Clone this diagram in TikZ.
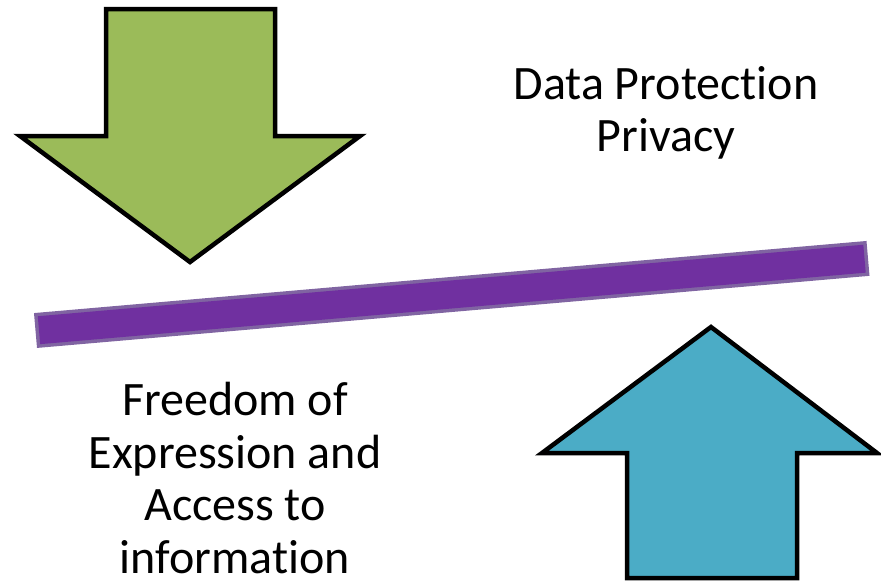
\documentclass[tikz,border=0pt]{standalone}
\usepackage{fontspec}
\setmainfont{Carlito}[Ligatures=NoCommon]
\definecolor{greenfill}{HTML}{9BBB59}
\definecolor{bluefill}{HTML}{4BACC6}
\definecolor{purplefill}{HTML}{7030A0}
\definecolor{purpleedge}{HTML}{8064A2}
\begin{document}
\begin{tikzpicture}[x=1pt,y=-1pt,
  arrowshape/.style={draw=black,line width=4.5pt,line join=miter,miter limit=10},
  label/.style={align=center,font=\fontsize{48}{52.5}\selectfont,inner sep=0pt}]
\useasboundingbox (0,0) rectangle (881,581);
% green down arrow
\draw[arrowshape,fill=greenfill] (106,9) -- (275,9) -- (275,136) -- (360,136) -- (190,262) -- (20,136) -- (106,136) -- cycle;
% blue up arrow
\draw[arrowshape,fill=bluefill] (711,327) -- (877,453) -- (797,453) -- (797,578) -- (627,578) -- (627,453) -- (542,453) -- cycle;
% purple bar
\coordinate (bl) at (35.5,330.5);
\coordinate (br) at (868,258.4);
\draw[purpleedge,line width=35pt] (bl) -- (br);
\draw[purplefill,line width=28pt,shorten <=3.5pt,shorten >=3.5pt] (bl) -- (br);
% texts
\node[label] (dp) at (666,113) {Data Protection\\Privacy};
\node[label] (fe) at (235,478) {Freedom of\\Expression and\\Access to\\information};
\end{tikzpicture}
\end{document}
